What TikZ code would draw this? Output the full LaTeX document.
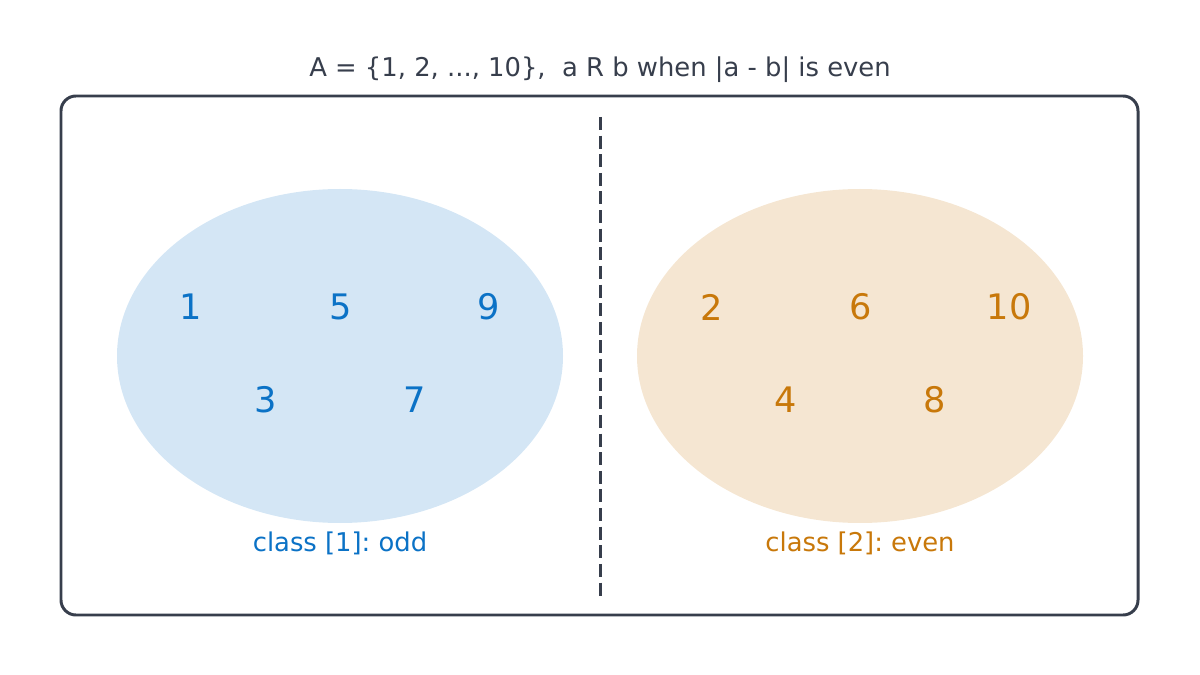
\documentclass[tikz,border=0pt]{standalone}
\usepackage{fontspec}
\setmainfont{DejaVu Sans}
\frenchspacing
\definecolor{ink}{HTML}{373E4C}
\definecolor{oddtext}{HTML}{0B72C6}
\definecolor{oddfill}{HTML}{D4E6F5}
\definecolor{eventext}{HTML}{C8780A}
\definecolor{evenfill}{HTML}{F5E6D2}
\tikzset{
  oddnum/.style={text=oddtext,font=\fontsize{20}{22}\selectfont},
  evennum/.style={text=eventext,font=\fontsize{20}{22}\selectfont},
  classlabel/.style={font=\fontsize{14.7}{16}\selectfont},
}
\begin{document}
\begin{tikzpicture}[x=0.02cm,y=-0.02cm]
      \useasboundingbox (0,0) rectangle (1200,675);
      \node[text=ink,font=\fontsize{14.7}{16}\selectfont] (title) at (600,70) {A = \{1, 2, ..., 10\},\ \ a R b when |a - b| is even};
      \draw[ink,line width=1.7pt,rounded corners=8.5pt] (61,96) rectangle (1138,615);
      \coordinate (top) at (600,117);
      \coordinate (bot) at (600,598);
      \draw[ink,line width=1.7pt,dash pattern=on 7.4pt off 3.2pt] (top) -- (bot);

      \fill[oddfill]  (340,356) ellipse [x radius=223,y radius=167];
      \fill[evenfill] (860,356) ellipse [x radius=223,y radius=167];

      \node[oddnum] (n1) at (191,307) {1};
      \node[oddnum] (n5) at (341,307) {5};
      \node[oddnum] (n9) at (489,307) {9};
      \node[oddnum] (n3) at (266,400) {3};
      \node[oddnum] (n7) at (415,400) {7};

      \node[evennum] (n2)  at (712,307)  {2};
      \node[evennum] (n6)  at (861,307)  {6};
      \node[evennum] (n10) at (1009,307) {10};
      \node[evennum] (n4)  at (786,400)  {4};
      \node[evennum] (n8)  at (935,400)  {8};

      \node[classlabel,text=oddtext]  (oddlabel)  at (340,543) {class [1]: odd};
      \node[classlabel,text=eventext] (evenlabel) at (860,543) {class [2]: even};
    \end{tikzpicture}
\end{document}
